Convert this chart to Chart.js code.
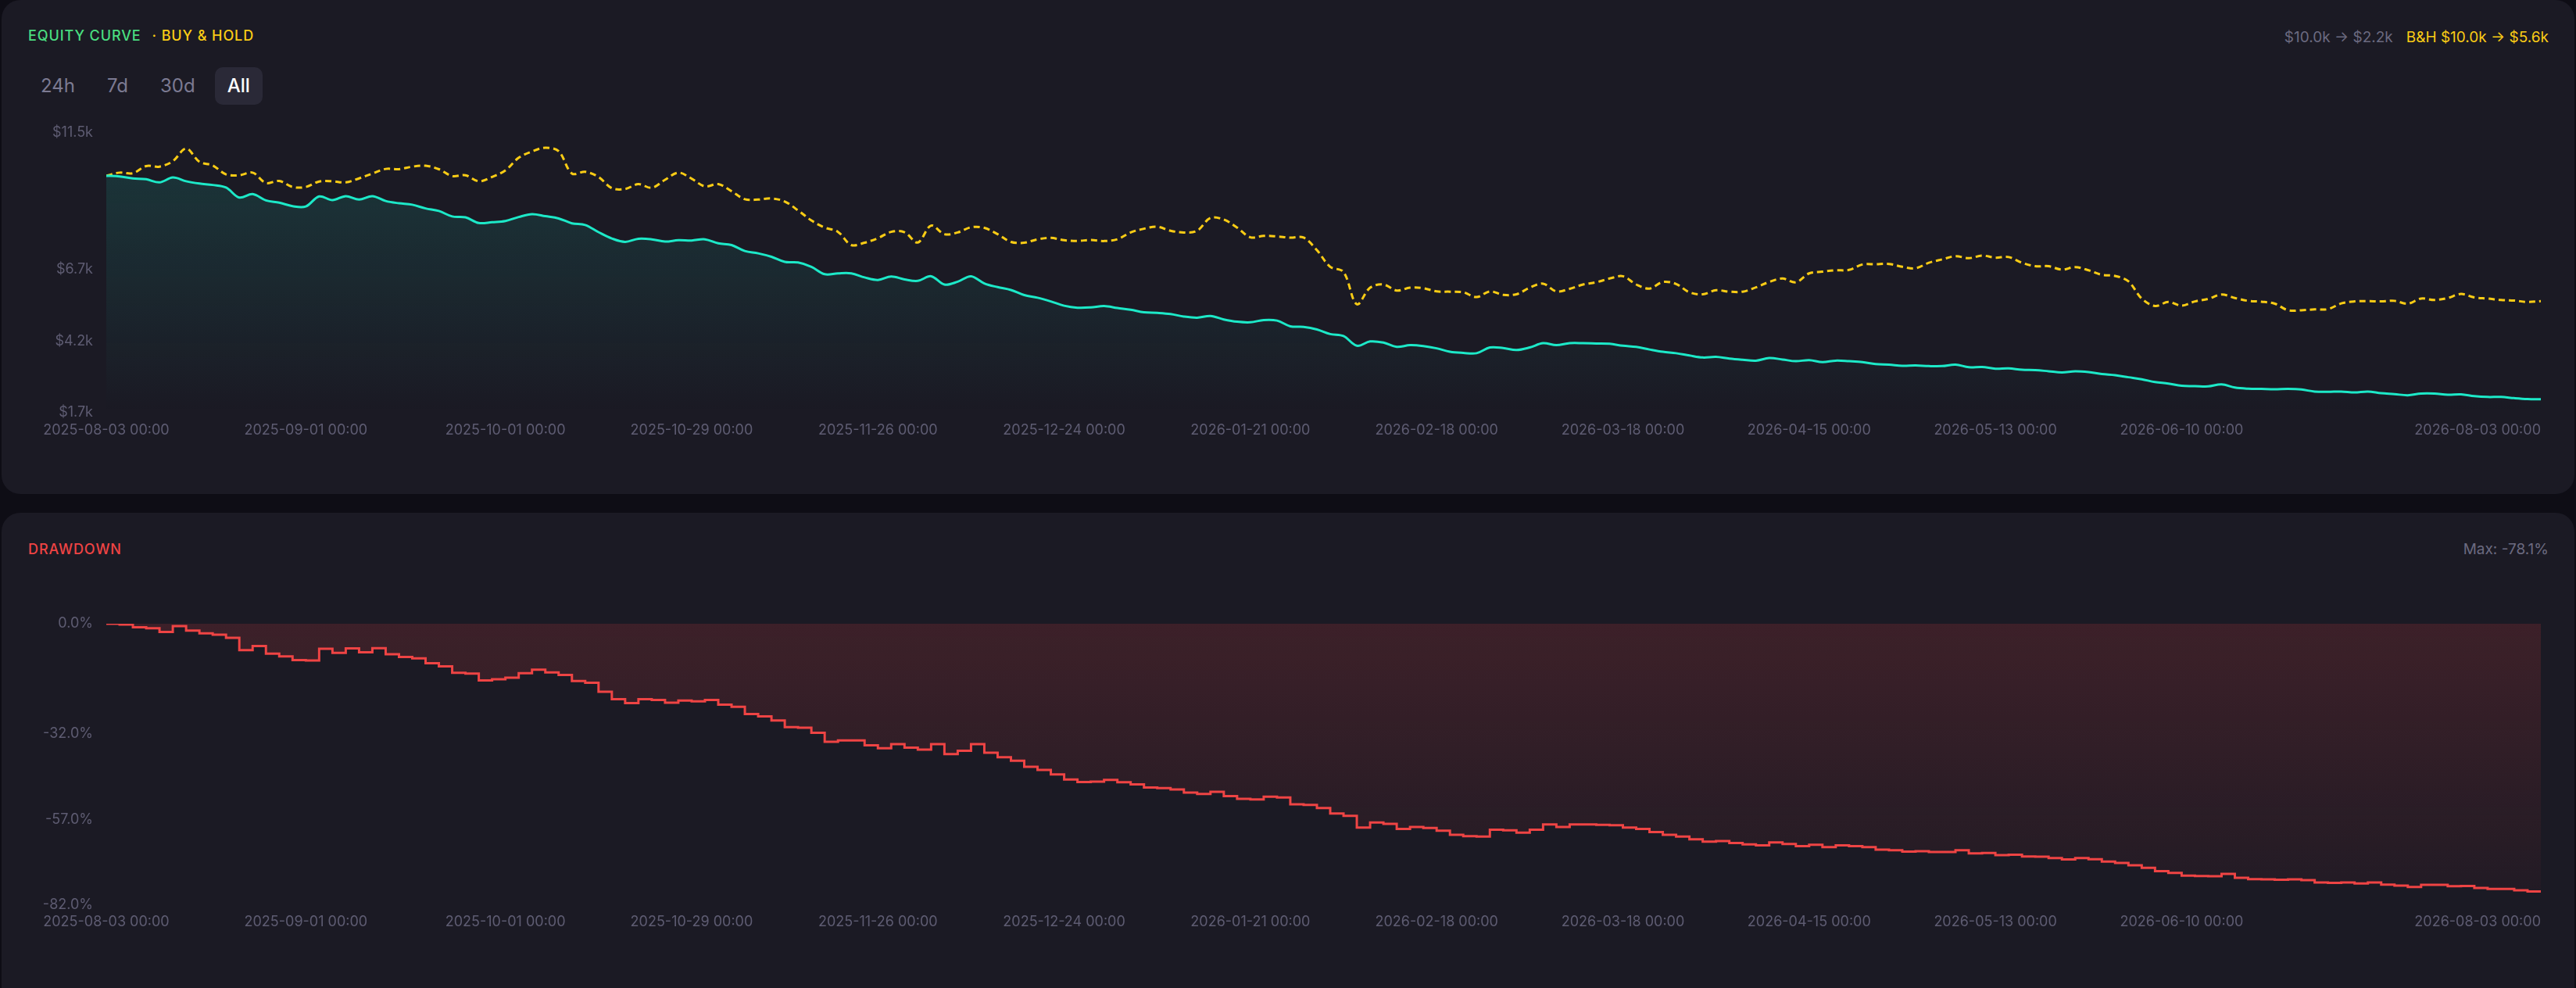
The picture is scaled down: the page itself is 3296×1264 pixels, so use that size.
<!DOCTYPE html>
<html lang="en">
<head>
  <meta charset="UTF-8">
  <title>Equity Curve / Drawdown</title>
  <script src="https://cdn.jsdelivr.net/npm/chart.js@4.4.1/dist/chart.umd.min.js"></script>
  <style>
    html, body {
      margin: 0; padding: 0;
      width: 3296px; height: 1264px; overflow: hidden;
      background: #0e0d15;
      font-family: Inter, "Noto Sans", sans-serif;
    }
    .panel { position: absolute; left: 2px; right: 2px; background: #1b1a24; border-radius: 24px; }
    #equityPanel { top: 0; height: 632px; }
    #ddPanel { top: 656px; height: 640px; }
    .cap {
      position: absolute; left: 36px;
      font-size: 18px; line-height: 20px; font-weight: 500; letter-spacing: 0.9px;
      white-space: nowrap;
    }
    .stat {
      position: absolute; right: 35px;
      font-size: 19px; line-height: 20px; white-space: nowrap; color: #6b6a80;
    }
    .range { position: absolute; left: 36px; top: 86px; display: flex; gap: 9px; }
    .range span {
      height: 48px; line-height: 48px; padding: 0 16px; border-radius: 10px;
      font-size: 24px; color: #7c7a92;
    }
    .range span.on { background: #2a2937; color: #ffffff; font-weight: 500; }
    canvas { position: absolute; left: 0; }
  </style>
</head>
<body>
  <div class="panel" id="equityPanel"></div>
  <div class="panel" id="ddPanel"></div>

  <div class="cap" style="top:36px; color:#4ade80">EQUITY CURVE<span style="color:#facc15; margin-left:14px">· BUY &amp; HOLD</span></div>
  <div class="stat" style="top:38px"><span id="eqStat"></span><span id="bhStat" style="color:#facc15; margin-left:17px"></span></div>
  <div class="range"><span>24h</span><span>7d</span><span>30d</span><span class="on">All</span></div>
  <canvas id="equityChart" width="3296" height="440" style="top:140px; width:3296px; height:440px"></canvas>

  <div class="cap" style="top:693px; color:#ef4444">DRAWDOWN</div>
  <div class="stat" style="top:693px" id="ddStat"></div>
  <canvas id="ddChart" width="3296" height="440" style="top:770px; width:3296px; height:440px"></canvas>

  <script>
    // x axis labels and the point index each one sits on
    const tickDates = [
      '2025-08-03 00:00', '2025-09-01 00:00', '2025-10-01 00:00', '2025-10-29 00:00',
      '2025-11-26 00:00', '2025-12-24 00:00', '2026-01-21 00:00', '2026-02-18 00:00',
      '2026-03-18 00:00', '2026-04-15 00:00', '2026-05-13 00:00', '2026-06-10 00:00',
      '2026-08-03 00:00'
    ];
    const tickIndex = [0, 15, 30, 44, 58, 72, 86, 100, 114, 128, 142, 156, 183];

    // strategy equity, $k
    const equity = [
      10.00, 9.98, 9.91, 9.88, 9.77, 9.94, 9.81, 9.73, 9.68, 9.59,
      9.24, 9.36, 9.14, 9.06, 8.94, 8.93, 9.28, 9.15, 9.29, 9.17,
      9.29, 9.12, 9.04, 8.99, 8.86, 8.77, 8.58, 8.55, 8.35, 8.38,
      8.42, 8.56, 8.66, 8.59, 8.51, 8.34, 8.28, 8.03, 7.81, 7.69,
      7.80, 7.78, 7.70, 7.75, 7.74, 7.78, 7.64, 7.58, 7.37, 7.29,
      7.17, 6.99, 6.97, 6.82, 6.56, 6.59, 6.59, 6.45, 6.36, 6.48,
      6.38, 6.33, 6.49, 6.20, 6.30, 6.49, 6.24, 6.11, 6.01, 5.83,
      5.74, 5.61, 5.46, 5.39, 5.40, 5.45, 5.38, 5.32, 5.23, 5.21,
      5.17, 5.08, 5.04, 5.10, 4.98, 4.90, 4.88, 4.96, 4.94, 4.74,
      4.72, 4.63, 4.47, 4.40, 4.06, 4.21, 4.17, 4.02, 4.08, 4.05,
      3.97, 3.85, 3.81, 3.80, 4.00, 3.98, 3.91, 4.00, 4.15, 4.08,
      4.15, 4.15, 4.14, 4.13, 4.06, 4.02, 3.93, 3.85, 3.80, 3.72,
      3.65, 3.67, 3.61, 3.57, 3.54, 3.63, 3.58, 3.52, 3.56, 3.49,
      3.54, 3.52, 3.49, 3.42, 3.40, 3.36, 3.37, 3.35, 3.35, 3.40,
      3.31, 3.32, 3.26, 3.27, 3.22, 3.21, 3.17, 3.13, 3.17, 3.14,
      3.07, 3.03, 2.96, 2.89, 2.79, 2.74, 2.66, 2.65, 2.64, 2.71,
      2.60, 2.56, 2.55, 2.54, 2.55, 2.53, 2.46, 2.45, 2.46, 2.43,
      2.46, 2.40, 2.37, 2.33, 2.39, 2.39, 2.35, 2.36, 2.30, 2.27,
      2.27, 2.23, 2.20, 2.19
    ];

    // buy & hold, $k
    const buyHold = [
      10.00, 10.11, 10.09, 10.34, 10.32, 10.51, 10.95, 10.49, 10.36, 10.05,
      10.02, 10.11, 9.75, 9.82, 9.61, 9.61, 9.80, 9.81, 9.77, 9.91,
      10.08, 10.24, 10.23, 10.32, 10.35, 10.23, 9.99, 10.02, 9.81, 9.96,
      10.19, 10.63, 10.85, 10.98, 10.86, 10.08, 10.14, 9.96, 9.57, 9.54,
      9.71, 9.58, 9.86, 10.11, 9.90, 9.63, 9.71, 9.46, 9.18, 9.17,
      9.21, 9.10, 8.79, 8.44, 8.19, 8.04, 7.58, 7.66, 7.82, 8.04,
      8.03, 7.67, 8.26, 7.96, 8.02, 8.20, 8.18, 7.96, 7.69, 7.66,
      7.78, 7.83, 7.75, 7.72, 7.76, 7.72, 7.78, 8.02, 8.15, 8.22,
      8.08, 8.02, 8.08, 8.53, 8.47, 8.19, 7.85, 7.90, 7.88, 7.84,
      7.84, 7.40, 6.82, 6.64, 5.51, 6.09, 6.20, 5.99, 6.09, 6.07,
      5.96, 5.95, 5.93, 5.76, 5.96, 5.84, 5.86, 6.09, 6.23, 5.96,
      6.05, 6.20, 6.28, 6.41, 6.49, 6.20, 6.06, 6.29, 6.22, 5.93,
      5.86, 6.00, 5.95, 5.95, 6.10, 6.29, 6.41, 6.28, 6.59, 6.65,
      6.70, 6.71, 6.90, 6.91, 6.92, 6.82, 6.77, 6.96, 7.08, 7.19,
      7.12, 7.21, 7.14, 7.16, 6.96, 6.84, 6.84, 6.72, 6.81, 6.70,
      6.54, 6.50, 6.31, 5.71, 5.45, 5.59, 5.46, 5.61, 5.70, 5.85,
      5.73, 5.63, 5.60, 5.53, 5.30, 5.30, 5.33, 5.34, 5.54, 5.61,
      5.62, 5.61, 5.63, 5.53, 5.71, 5.66, 5.73, 5.87, 5.75, 5.71,
      5.66, 5.64, 5.59, 5.62
    ];

    // drawdown from peak, %
    const drawdown = [
      0.0, -0.2, -1.0, -1.3, -2.4, -0.7, -2.0, -2.8, -3.2, -4.1,
      -7.7, -6.5, -8.7, -9.5, -10.6, -10.7, -7.3, -8.5, -7.2, -8.3,
      -7.1, -8.9, -9.7, -10.1, -11.5, -12.4, -14.3, -14.5, -16.5, -16.2,
      -15.7, -14.4, -13.4, -14.2, -14.9, -16.7, -17.2, -19.8, -22.0, -23.1,
      -22.0, -22.2, -23.0, -22.4, -22.6, -22.2, -23.6, -24.2, -26.3, -27.0,
      -28.2, -30.1, -30.3, -31.8, -34.4, -34.0, -34.0, -35.4, -36.3, -35.1,
      -36.1, -36.7, -35.1, -38.0, -37.0, -35.1, -37.6, -38.9, -39.9, -41.7,
      -42.6, -43.9, -45.4, -46.1, -46.0, -45.5, -46.2, -46.8, -47.7, -47.9,
      -48.3, -49.2, -49.6, -49.0, -50.2, -51.0, -51.2, -50.4, -50.6, -52.6,
      -52.8, -53.7, -55.3, -56.0, -59.4, -57.9, -58.3, -59.8, -59.2, -59.5,
      -60.3, -61.5, -61.9, -62.0, -60.0, -60.2, -60.9, -60.0, -58.5, -59.2,
      -58.5, -58.5, -58.6, -58.7, -59.4, -59.8, -60.7, -61.5, -62.0, -62.8,
      -63.5, -63.3, -63.9, -64.3, -64.6, -63.7, -64.2, -64.8, -64.4, -65.1,
      -64.6, -64.8, -65.1, -65.8, -66.0, -66.4, -66.3, -66.5, -66.5, -66.0,
      -66.9, -66.8, -67.4, -67.3, -67.8, -67.9, -68.3, -68.7, -68.3, -68.6,
      -69.3, -69.7, -70.4, -71.1, -72.1, -72.6, -73.4, -73.5, -73.6, -72.9,
      -74.0, -74.4, -74.5, -74.6, -74.5, -74.7, -75.4, -75.5, -75.4, -75.7,
      -75.4, -76.0, -76.3, -76.7, -76.1, -76.1, -76.5, -76.4, -77.0, -77.3,
      -77.3, -77.7, -78.0, -78.1
    ];

    // y axis ticks
    const equityTicks = [1.72, 4.22, 6.72, 11.5];
    const drawdownTicks = [-82, -57, -32, 0];

    const GRAY = '#5e5c72';
    const TEAL = '#1de9c8';
    const GOLD = '#facc15';
    const RED = '#ef4444';

    const lastIndex = equity.length - 1;
    const xy = arr => arr.map((v, i) => ({ x: i, y: v }));

    document.getElementById('eqStat').textContent =
      '$' + equity[0].toFixed(1) + 'k \u2192 $' + equity[lastIndex].toFixed(1) + 'k';
    document.getElementById('bhStat').textContent =
      'B&H $' + buyHold[0].toFixed(1) + 'k \u2192 $' + buyHold[buyHold.length - 1].toFixed(1) + 'k';
    document.getElementById('ddStat').textContent = 'Max: ' + Math.min(...drawdown).toFixed(1) + '%';

    function fade(rgb, top, bottom) {
      return ctx => {
        const area = ctx.chart.chartArea;
        if (!area) return 'transparent';
        const g = ctx.chart.ctx.createLinearGradient(0, area.top, 0, area.bottom);
        g.addColorStop(0, 'rgba(' + rgb + ',' + top + ')');
        g.addColorStop(1, 'rgba(' + rgb + ',' + bottom + ')');
        return g;
      };
    }

    // first tick is an empty placeholder so 'inner' only pins the last label to the right edge
    function dateAxis(pad) {
      return {
        type: 'linear', min: 0, max: lastIndex,
        grid: { display: false, drawTicks: false }, border: { display: false },
        afterBuildTicks: s => { s.ticks = [{ value: 0 }].concat(tickIndex.map(v => ({ value: v }))); },
        afterFit: s => { s.height = 52; },
        ticks: {
          autoSkip: false, maxRotation: 0, align: 'inner', padding: pad,
          color: GRAY, font: { size: 18 },
          callback: (v, i) => i === 0 ? '' : tickDates[i - 1]
        }
      };
    }

    function valueAxis(min, max, ticks, fmt) {
      return {
        min: min, max: max,
        grid: { display: false, drawTicks: false }, border: { display: false },
        afterBuildTicks: s => { s.ticks = ticks.map(v => ({ value: v })); },
        afterFit: s => { s.width = 136; },
        ticks: { padding: 17, color: GRAY, font: { size: 18 }, callback: fmt }
      };
    }

    const common = {
      responsive: false, animation: false, events: [],
      plugins: { legend: { display: false }, tooltip: { enabled: false } }
    };

    function draw() {
      Chart.defaults.font.family = 'Inter, "Noto Sans", sans-serif';

      new Chart(document.getElementById('equityChart'), {
        type: 'line',
        data: {
          datasets: [
            {
              data: xy(equity), borderColor: TEAL, borderWidth: 3, tension: 0.35,
              pointRadius: 0, fill: 'start', backgroundColor: fade('29,233,200', 0.15, 0.0)
            },
            {
              data: xy(buyHold), borderColor: GOLD, borderWidth: 3, borderDash: [8, 5],
              tension: 0.35, pointRadius: 0, fill: false
            }
          ]
        },
        options: Object.assign({}, common, {
          layout: { padding: { left: 0, right: 45, top: 30, bottom: 0 } },
          scales: {
            x: dateAxis(12),
            y: valueAxis(1.72, 11.5, equityTicks, v => '$' + v.toFixed(1) + 'k')
          }
        })
      });

      new Chart(document.getElementById('ddChart'), {
        type: 'line',
        data: {
          datasets: [{
            data: xy(drawdown), borderColor: RED, borderWidth: 3, stepped: true,
            pointRadius: 0, fill: 'origin', backgroundColor: fade('239,68,68', 0.16, 0.03)
          }]
        },
        options: Object.assign({}, common, {
          layout: { padding: { left: 0, right: 45, top: 28, bottom: 0 } },
          scales: {
            x: dateAxis(11),
            y: valueAxis(-82, 0, drawdownTicks, v => v.toFixed(1) + '%')
          }
        })
      });
    }

    document.fonts.load('18px Inter').then(draw, draw);
  </script>
</body>
</html>
